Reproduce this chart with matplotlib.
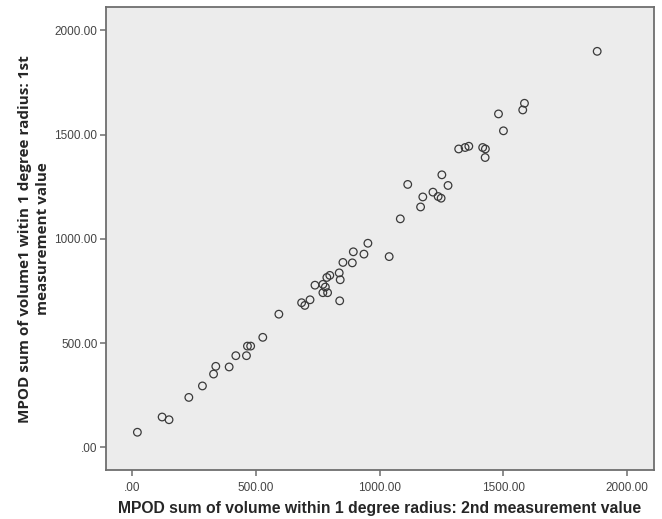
import matplotlib
matplotlib.use("Agg")
import matplotlib.pyplot as plt
from matplotlib.ticker import FixedLocator, FuncFormatter

# MPOD sum of volume within 1 degree radius, second vs first measurement
second_measurement = [
    20, 120, 148, 228, 283, 328, 337, 391, 418, 461, 465, 478, 527, 592,
    684, 697, 718, 738, 770, 780, 770, 789, 786, 798, 836, 840, 838, 851,
    889, 893, 936, 952, 1038, 1083, 1165, 1174, 1113, 1215, 1236, 1248,
    1251, 1276, 1319, 1345, 1360, 1416, 1427, 1426, 1480, 1500, 1578,
    1585, 1879,
]
first_measurement = [
    73, 146, 133, 240, 295, 352, 389, 386, 440, 440, 486, 486, 528, 639,
    694, 681, 708, 778, 782, 769, 742, 742, 815, 825, 837, 804, 703, 887,
    885, 938, 927, 979, 915, 1096, 1153, 1201, 1261, 1224, 1203, 1195,
    1307, 1256, 1431, 1438, 1444, 1438, 1431, 1390, 1599, 1518, 1618,
    1650, 1899,
]
tick_values = [0, 500, 1000, 1500, 2000]

x_label = "MPOD sum of volume within 1 degree radius: 2nd measurement value"
y_label = "MPOD sum of volume1 witin 1 degree radius: 1st\nmeasurement value"


def spss_fmt(v, _pos=None):
    s = f"{v:.2f}"
    return s[1:] if s.startswith("0.") else s


fig = plt.figure(figsize=(6.62, 5.19), dpi=100, facecolor="white")
ax = fig.add_axes([0.1597, 0.0944, 0.8287, 0.8915])
ax.set_facecolor("#ececec")

ax.scatter(second_measurement, first_measurement, s=30, facecolors="none",
           edgecolors="#3a3a3a", linewidths=0.9, zorder=3)

ax.set_xlim(-108, 2110)
ax.set_ylim(-108, 2110)
ax.xaxis.set_major_locator(FixedLocator(tick_values))
ax.yaxis.set_major_locator(FixedLocator(tick_values))
ax.xaxis.set_major_formatter(FuncFormatter(spss_fmt))
ax.yaxis.set_major_formatter(FuncFormatter(spss_fmt))

for side in ax.spines.values():
    side.set_color("#6e6e6e")
    side.set_linewidth(1.3)

ax.tick_params(axis="both", direction="out", length=4.5, width=1.1,
               color="#6e6e6e", labelcolor="#444444", labelsize=8.5)
ax.tick_params(axis="y", pad=1.5)
ax.tick_params(axis="x", pad=4)
for lbl in ax.get_xticklabels() + ax.get_yticklabels():
    lbl.set_fontfamily("Liberation Sans")

ax.set_xlabel(x_label, fontsize=11.3, fontweight="bold", color="#262626",
              family="Liberation Sans", labelpad=5)
ax.set_ylabel(y_label, fontsize=11, fontweight="bold", color="#262626",
              family="Open Sans", labelpad=3, linespacing=1.4)

fig.savefig("out.png", dpi=100, facecolor="white")
